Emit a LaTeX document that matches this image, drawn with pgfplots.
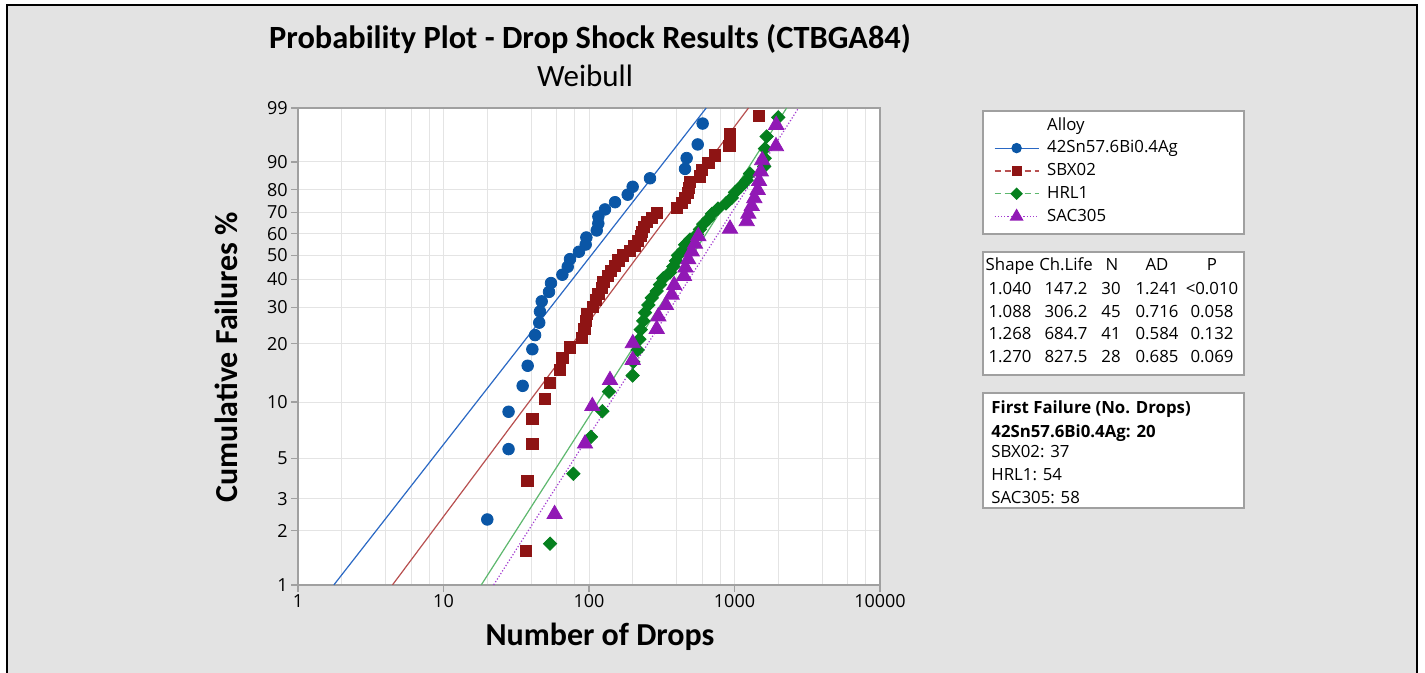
\documentclass[border=0pt]{standalone}
\usepackage{pgfplots}
\pgfplotsset{compat=1.18}
\usepackage{fontspec}
\setmainfont{Carlito}
\newfontfamily\osans{Open Sans}
\definecolor{bgray}{HTML}{E3E3E3}
\definecolor{cblue}{HTML}{0A56A6}
\definecolor{lblue}{HTML}{2A68C4}
\definecolor{cred}{HTML}{8E1414}
\definecolor{lred}{HTML}{B85050}
\definecolor{cgreen}{HTML}{05801E}
\definecolor{lgreen}{HTML}{5DB86E}
\definecolor{cpurple}{HTML}{9118B5}
\definecolor{lpurple}{HTML}{A33BD0}
\definecolor{gridc}{HTML}{E4E4E4}
\definecolor{axc}{HTML}{A0A0A0}

\begin{document}
\begin{tikzpicture}[x=0.5pt,y=-0.5pt]
\useasboundingbox (0,0) rectangle (1425,673);
\fill[white] (0,0) rectangle (1425,673);
\fill[bgray] (7,5) rectangle (1417,673);
\draw[black, line width=0.8pt] (7,673) -- (7,5) -- (1417,5) -- (1417,673);
% side boxes
\draw[axc, fill=white, line width=0.6pt] (983,111) rectangle (1244,234);
\draw[axc, fill=white, line width=0.6pt] (983,252) rectangle (1244,375);
\draw[axc, fill=white, line width=0.6pt] (983,393) rectangle (1244,508);

\begin{axis}[
  at={(149pt,-292.5pt)}, anchor=south west,
  scale only axis, width=291pt, height=238.5pt,
  axis background/.style={fill=white},
  xmode=log, xmin=1, xmax=10000,
  ymin=-4.600149, ymax=1.527180,
  y filter/.code={\pgfmathparse{ln(-ln(1-#1/100))}},
  xtick={1,10,100,1000,10000},
  xticklabels={1,10,100,1000,10000},
  minor xtick={2,4,6,8,20,40,60,80,200,400,600,800,2000,4000,6000,8000},
  ytick={-4.600149,-3.901938,-3.491296,-2.970195,-2.250367,-1.499940,-1.030930,-0.671727,-0.366513,-0.087422,0.185627,0.475885,0.834032,1.527180},
  yticklabels={1,2,3,5,10,20,30,40,50,60,70,80,90,99},
  grid=both,
  major grid style={gridc, line width=0.5pt},
  minor grid style={gridc, line width=0.5pt},
  tick align=outside,
  xtick pos=left, ytick pos=left,
  major tick length=3.5pt, minor tick length=0pt,
  tick style={axc, line width=0.6pt},
  axis line style={axc, line width=0.6pt},
  ticklabel style={font=\osans\fontsize{9}{10}\selectfont, text=black},
  xticklabel style={inner sep=1pt},
  yticklabel style={inner sep=1.5pt},
  legend cell align=left,
  legend image code/.code={\draw[#1, mark repeat=2, mark phase=2] plot coordinates {(0pt,0pt) (11pt,0pt) (22pt,0pt)};},
  legend style={at={(1.19588,0.98113)}, anchor=north west, draw=none, fill=none,
    inner sep=0pt, outer sep=0pt, column sep=4pt, row sep=3.1pt,
    font=\osans\fontsize{8.4}{10}\selectfont,
    nodes={inner sep=0pt, text height=6.5pt, text depth=1.8pt}},
]
% fitted lines
\addplot[lblue, line width=0.6pt, forget plot] coordinates {(1.7657,1) (639.2,99)};
\addplot[lred, line width=0.6pt, forget plot] coordinates {(4.4647,1) (1246.6,99)};
\addplot[lgreen, line width=0.6pt, forget plot] coordinates {(18.195,1) (2282,99)};
\addplot[lpurple, line width=0.6pt, densely dotted, forget plot] coordinates {(22.116,1) (2755,99)};
% 42Sn57.6Bi0.4Ag
\addplot[only marks, mark=*, mark size=2.9pt, color=cblue, forget plot] coordinates {
(20,2.303) (28,5.592) (28,8.882) (35,12.171) (37.9,15.461) (40.8,18.750) (42.6,22.039) (45.5,25.329) (46,28.618) (47.3,31.908) (53.1,35.197) (54.8,38.487) (65.6,41.776) (71.4,45.066) (74,48.355) (85.3,51.645) (94.9,54.934) (95.9,58.224) (113,61.513) (115.9,64.803) (116,68.092) (128.8,71.382) (151,74.671) (184.5,77.961) (199.6,81.250) (262.5,84.539) (457,87.829) (469,91.118) (558.6,94.408) (604,97.697)};
% SBX02
\addplot[only marks, mark=square*, mark size=2.8pt, color=cred, forget plot] coordinates {
(37,1.542) (37.7,3.744) (40.8,5.947) (40.8,8.150) (49.9,10.352) (53.9,12.555) (63.2,14.758) (65.6,16.960) (74,19.163) (89.9,21.366) (93,23.568) (95,25.771) (97,27.974) (107,30.176) (111.7,32.379) (115.9,34.581) (122.3,36.784) (125.4,38.987) (135.7,41.189) (140.6,43.392) (151,45.595) (159,47.797) (172,50.000) (191,52.203) (205,54.405) (217,56.608) (226,58.811) (232,61.013) (239,63.216) (250,65.419) (270,67.621) (292,69.824) (400,72.026) (434,74.229) (457,76.432) (481,78.634) (487,80.837) (495,83.040) (579,85.242) (595,87.445) (661,89.648) (734,91.850) (921,94.053) (931,96.256) (1473,98.458)};
% HRL1
\addplot[only marks, mark=square*, mark options={rotate=45}, mark size=2.36pt, color=cgreen, forget plot] coordinates {
(54,1.691) (78,4.106) (103.2,6.522) (123.4,8.937) (137.3,11.353) (199.7,13.768) (201.6,16.184) (216,18.599) (221.7,21.014) (226.6,23.430) (236,25.845) (242.6,28.261) (255.6,30.676) (270,33.092) (292,35.507) (307.6,37.923) (324,40.338) (360,42.754) (379.7,45.169) (396,47.585) (409,50.000) (445,52.415) (457,54.831) (495,57.246) (552,59.662) (579,62.077) (610,64.493) (661,66.908) (700,69.324) (770,71.739) (874,74.155) (957,76.570) (1008,78.986) (1108,81.401) (1213,83.816) (1278,86.232) (1600,88.647) (1610,91.063) (1620,93.478) (1665,95.894) (2000,98.309)};
% SAC305
\addplot[only marks, mark=triangle*, mark size=4.4pt, color=cpurple, forget plot] coordinates {
(58,2.465) (93.9,5.986) (105.4,9.507) (139.4,13.028) (199.7,16.549) (200,20.070) (292,23.592) (299.5,27.113) (338,30.634) (370,34.155) (385,37.676) (450,41.197) (460,44.718) (481,48.239) (508,51.761) (535,55.282) (564,58.803) (931,62.324) (1213,65.845) (1245,69.366) (1313,72.887) (1368,76.408) (1443,79.930) (1475,83.451) (1515,86.972) (1550,90.493) (1928,94.014) (1935,97.535)};
% legend
\addlegendimage{empty legend}
\addlegendentry{Alloy}
\addlegendimage{lblue, line width=0.6pt, mark=*, mark size=2.3pt, mark options={cblue, solid}}
\addlegendentry{42Sn57.6Bi0.4Ag}
\addlegendimage{lred, line width=0.6pt, densely dashed, mark=square*, mark size=2.2pt, mark options={cred, solid}}
\addlegendentry{SBX02}
\addlegendimage{lgreen, line width=0.6pt, densely dashed, mark=square*, mark size=1.9pt, mark options={cgreen, solid, rotate=45}}
\addlegendentry{HRL1}
\addlegendimage{lpurple, line width=0.6pt, densely dotted, mark=triangle*, mark size=3.4pt, mark options={cpurple, solid}}
\addlegendentry{SAC305}
\end{axis}

% titles
\node[font=\bfseries\fontsize{16.2}{19}\selectfont, anchor=base] at (590,49) {Probability Plot - Drop Shock Results (CTBGA84)};
\node[font=\fontsize{15.5}{18}\selectfont, anchor=base] at (585,87) {Weibull};
\node[font=\bfseries\fontsize{16}{19}\selectfont, anchor=base] at (600,645) {Number of Drops};
\node[font=\bfseries\fontsize{16}{19}\selectfont, anchor=base, rotate=90] at (237,357) {Cumulative Failures \%};

% stats table
\begin{scope}[every node/.style={font=\osans\fontsize{8.4}{10}\selectfont, anchor=base, inner sep=0pt}]
\node at (1010,271) {Shape};
\node at (1066,271) {Ch.Life};
\node at (1112,271) {N};
\node at (1157,271) {AD};
\node at (1212,271) {P};
\node at (1010,294.5) {1.040}; \node at (1066,294.5) {147.2}; \node at (1111,294.5) {30}; \node at (1157,294.5) {1.241}; \node at (1212,294.5) {<0.010};
\node at (1010,317.5) {1.088}; \node at (1066,317.5) {306.2}; \node at (1111,317.5) {45}; \node at (1157,317.5) {0.716}; \node at (1212,317.5) {0.058};
\node at (1010,340) {1.268}; \node at (1066,340) {684.7}; \node at (1111,340) {41}; \node at (1157,340) {0.584}; \node at (1212,340) {0.132};
\node at (1010,363) {1.270}; \node at (1066,363) {827.5}; \node at (1111,363) {28}; \node at (1157,363) {0.685}; \node at (1212,363) {0.069};
\end{scope}
% first failure box
\begin{scope}[every node/.style={font=\osans\fontsize{8.4}{10}\selectfont, anchor=base west, inner sep=0pt}]
\node[font=\osans\bfseries\fontsize{8.4}{10}\selectfont] at (991,413.5) {First Failure (No. Drops)};
\node[font=\osans\bfseries\fontsize{8.4}{10}\selectfont] at (991,437.5) {42Sn57.6Bi0.4Ag: 20};
\node at (991,457.5) {SBX02: 37};
\node at (991,481) {HRL1: 54};
\node at (991,504) {SAC305: 58};
\end{scope}
\end{tikzpicture}
\end{document}
